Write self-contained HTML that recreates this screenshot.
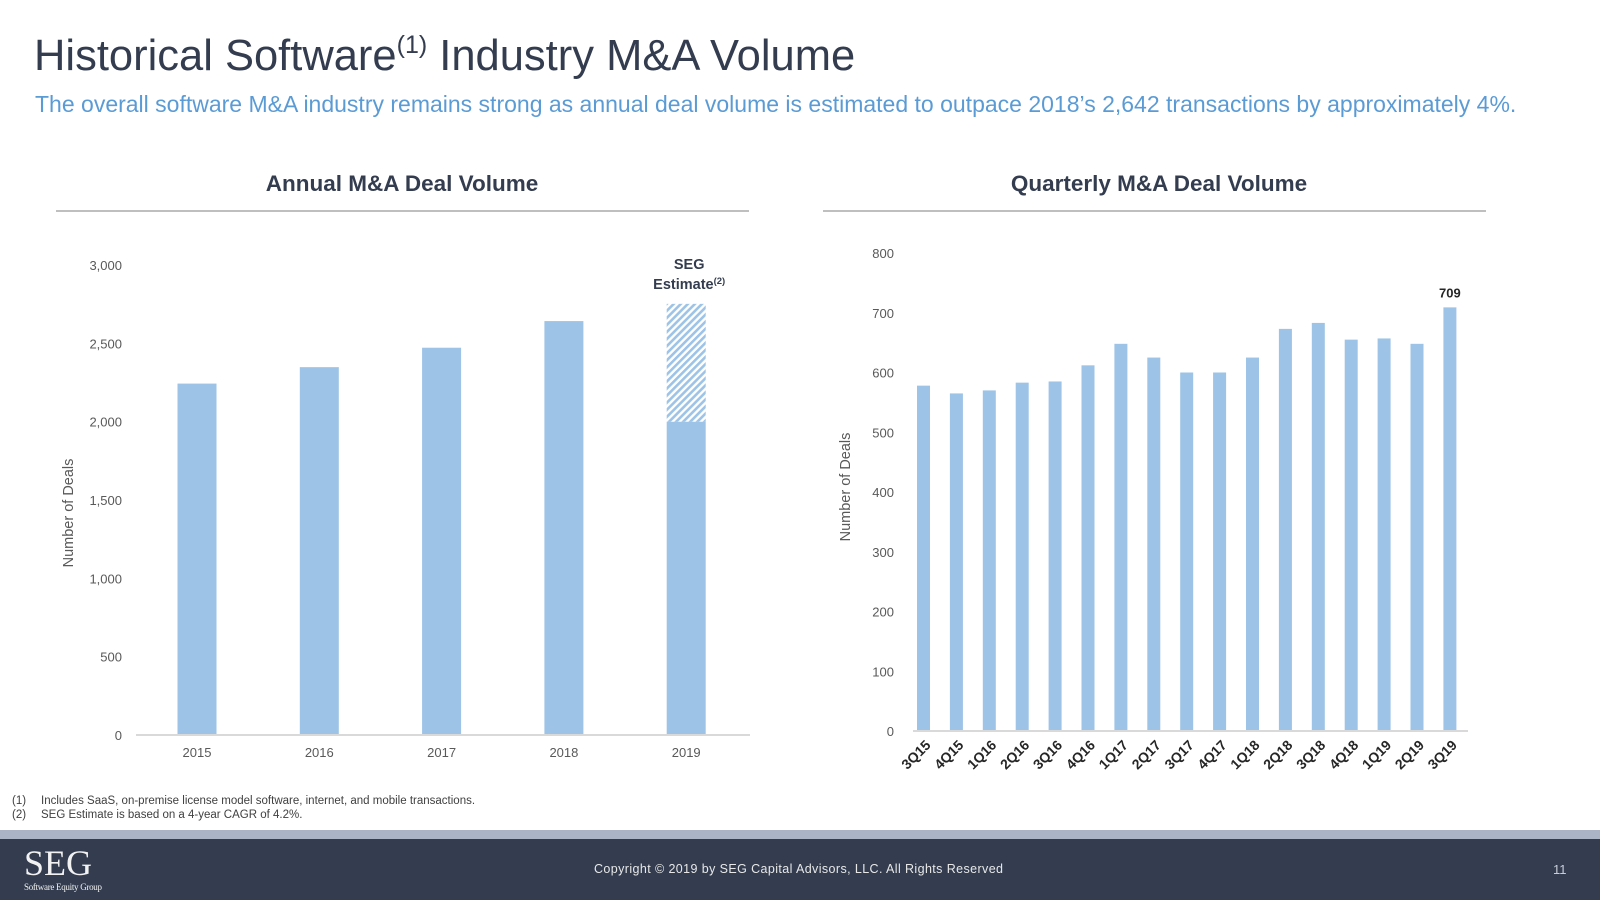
<!DOCTYPE html>
<html><head><meta charset="utf-8"><style>
body{margin:0;width:1600px;height:900px;position:relative;background:#fff;font-family:"Liberation Sans",sans-serif;overflow:hidden}
.abs{position:absolute}
</style></head><body>
<div class="abs" style="left:34px;top:31px;font-size:43.5px;color:#333d4f;white-space:nowrap">Historical Software<sup style="font-size:25px;vertical-align:17px">(1)</sup> Industry M&amp;A Volume</div>
<div class="abs" style="left:35px;top:91px;font-size:23px;color:#5b9bd5;white-space:nowrap">The overall software M&amp;A industry remains strong as annual deal volume is estimated to outpace 2018’s 2,642 transactions by approximately 4%.</div>
<svg class="abs" style="left:0;top:0" width="1600" height="900">
<defs><pattern id="hatch" width="5" height="5" patternUnits="userSpaceOnUse" patternTransform="rotate(45)"><rect width="5" height="5" fill="#fff"/><rect width="2.6" height="5" fill="#9dc3e6"/></pattern></defs>
<g id="left"></g>
<g id="right"></g>
</svg>
<div class="abs" style="left:12px;top:795px;font-size:11.5px;color:#404040"><span style="display:inline-block;width:29px">(1)</span>Includes SaaS, on-premise license model software, internet, and mobile transactions.</div>
<div class="abs" style="left:12px;top:809px;font-size:11.5px;color:#404040"><span style="display:inline-block;width:29px">(2)</span>SEG Estimate is based on a 4-year CAGR of 4.2%.</div>
<div class="abs" style="left:0;top:830px;width:1600px;height:9px;background:#aab4c5"></div>
<div class="abs" style="left:0;top:839px;width:1600px;height:61px;background:#333d4f"></div>
<div class="abs" style="left:24px;top:845px;color:#f2f2f2;font-family:'Liberation Serif',serif;font-size:36px;line-height:36px">SEG<div style="font-size:9px;line-height:12px;letter-spacing:-0.3px">Software Equity Group</div></div>
<div class="abs" style="left:594px;top:862px;font-size:12.5px;color:#e8e8e8;letter-spacing:0.4px">Copyright © 2019 by SEG Capital Advisors, LLC. All Rights Reserved</div>
<div class="abs" style="left:1553px;top:862px;font-size:13px;color:#c8cdd8">11</div>
<script>
const years=['2015','2016','2017','2018','2019'];
const annualValues=[2243,2348,2472,2642,2000];
const estimateValue=2752;
const yTicksA=[0,500,1000,1500,2000,2500,3000];
const quarters=['3Q15','4Q15','1Q16','2Q16','3Q16','4Q16','1Q17','2Q17','3Q17','4Q17','1Q18','2Q18','3Q18','4Q18','1Q19','2Q19','3Q19'];
const quarterValues=[578,565,570,583,585,612,648,625,600,600,625,673,683,655,657,648,709];
const yTicksQ=[0,100,200,300,400,500,600,700,800];
const NS='http://www.w3.org/2000/svg';
function mk(p,tag,at,txt){const e=document.createElementNS(NS,tag);for(const k in at)e.setAttribute(k,at[k]);if(txt!==undefined)e.textContent=txt;p.appendChild(e);return e;}
// Annual
const L=document.getElementById('left');
let t=mk(L,'text',{x:402,y:191,'text-anchor':'middle','font-size':22.5,'font-weight':'bold',fill:'#333d4f'},'Annual M&A Deal Volume');

let r=mk(L,'rect',{x:56,y:210,width:693,height:2,fill:'#bfbfbf'});

const ya=v=>735-v*(470/3000);const xa=i=>197+i*122.3;
yTicksA.forEach(v=>{const e=mk(L,'text',{x:122,y:ya(v)+5,'text-anchor':'end','font-size':13,fill:'#595959'},v.toLocaleString('en-US'));
});
annualValues.forEach((v,i)=>{const b=mk(L,'rect',{x:xa(i)-19.5,y:ya(v),width:39,height:735-ya(v),fill:'#9dc3e6'});

const e=mk(L,'text',{x:xa(i),y:757,'text-anchor':'middle','font-size':13,fill:'#595959'},years[i]);
});
const li=annualValues.length-1;
let h=mk(L,'rect',{x:xa(li)-19.5,y:ya(estimateValue),width:39,height:ya(annualValues[li])-ya(estimateValue),fill:'url(#hatch)'});

let ax=mk(L,'rect',{x:136,y:734,width:614,height:2,fill:'#d9d9d9'});

let s1=mk(L,'text',{x:xa(li)+3,y:269,'text-anchor':'middle','font-size':14.5,'font-weight':'bold',fill:'#333d4f'},'SEG');

let s2=mk(L,'text',{x:xa(li)+3,y:289,'text-anchor':'middle','font-size':14.5,'font-weight':'bold',fill:'#333d4f'},'Estimate');

mk(s2,'tspan',{'font-size':9.5,dy:-5},'(2)');
let yl=mk(L,'text',{x:0,y:0,transform:'translate(73,513) rotate(-90)','text-anchor':'middle','font-size':14.5,fill:'#595959'},'Number of Deals');

// Quarterly
const R=document.getElementById('right');
t=mk(R,'text',{x:1159,y:191,'text-anchor':'middle','font-size':22.5,'font-weight':'bold',fill:'#333d4f'},'Quarterly M&A Deal Volume');

r=mk(R,'rect',{x:823,y:210,width:663,height:2,fill:'#bfbfbf'});

const yq=v=>731-v*(478/800);const xq=i=>923.5+i*32.9;
yTicksQ.forEach(v=>{const e=mk(R,'text',{x:894,y:yq(v)+5,'text-anchor':'end','font-size':13,fill:'#595959'},String(v));
});
quarterValues.forEach((v,i)=>{const b=mk(R,'rect',{x:xq(i)-6.5,y:yq(v),width:13,height:731-yq(v),fill:'#9dc3e6'});

const e=mk(R,'text',{x:0,y:0,transform:`translate(${xq(i)+8},${746}) rotate(-45)`,'text-anchor':'end','font-size':14,'font-weight':'bold',fill:'#262626'},quarters[i]);
});
const ql=quarterValues.length-1;
let vl=mk(R,'text',{x:xq(ql),y:yq(quarterValues[ql])-10,'text-anchor':'middle','font-size':13,'font-weight':'bold',fill:'#262626'},String(quarterValues[ql]));

ax=mk(R,'rect',{x:913,y:730,width:555,height:2,fill:'#d9d9d9'});

yl=mk(R,'text',{x:0,y:0,transform:'translate(850,487) rotate(-90)','text-anchor':'middle','font-size':14.5,fill:'#595959'},'Number of Deals');

</script>
</body></html>
